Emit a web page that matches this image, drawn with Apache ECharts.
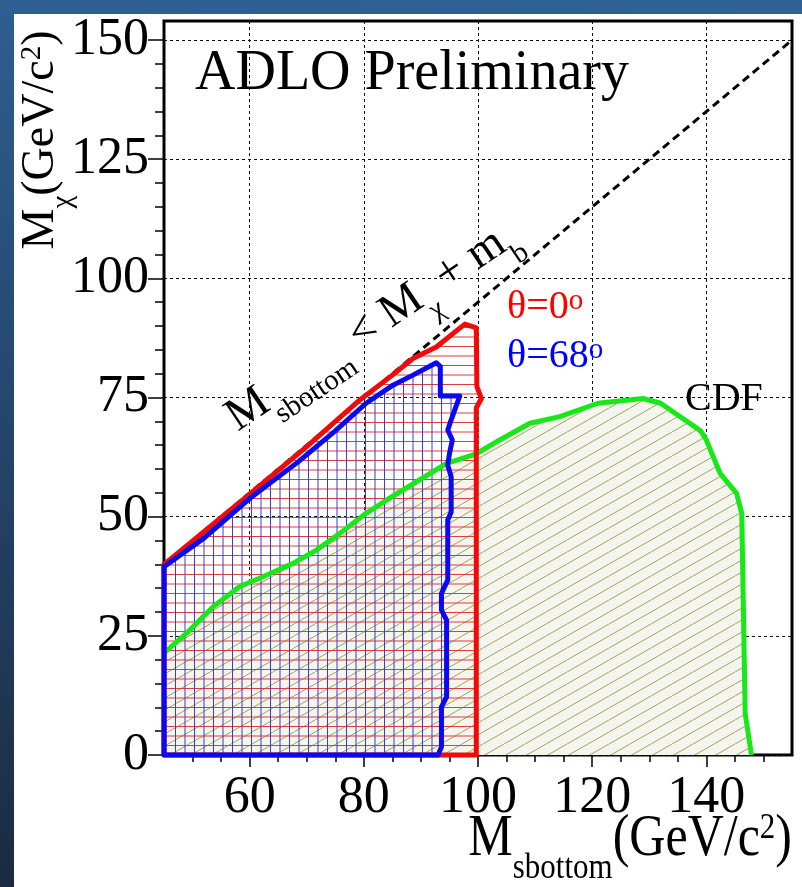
<!DOCTYPE html>
<html><head><meta charset="utf-8">
<script src="https://cdn.jsdelivr.net/npm/echarts@6/dist/echarts.min.js"></script>
<style>html,body{margin:0;padding:0;background:#fff}#c{width:802px;height:887px}</style>
</head><body><div id="c"></div>
<script>
// ---- data ----
const xRange = [45, 155];
const yRange = [0, 154];
const xMajorTicks = [60, 80, 100, 120, 140];
const xMinorTicks = [50, 55, 65, 70, 75, 85, 90, 95, 105, 110, 115, 125, 130, 135, 145, 150];
const yMajorTicks = [0, 25, 50, 75, 100, 125, 150];
const yMinorTicks = [5, 10, 15, 20, 30, 35, 40, 45, 55, 60, 65, 70, 80, 85, 90, 95, 105, 110, 115, 120, 130, 135, 140, 145];
const kinematicLimit = [[45, 40], [155, 150]];
const cdfBoundary = [[45, 21.5], [46, 22.4], [48.9, 25.5], [53.6, 31.1], [58.2, 35.3], [62.3, 37.4], [67.6, 40.2], [71.7, 43.0], [75.8, 46.5], [80.4, 50.7], [84, 53.5], [94.5, 61.2], [99.7, 63.2], [103.8, 66.1], [109.1, 69.6], [114.3, 71.0], [121, 73.8], [128.9, 74.8], [132, 73.8], [139, 68], [140, 66.1], [142.4, 59.1], [145.3, 54.9], [146.2, 50.7], [146.8, 8.7], [147.9, 0]];
const cdfClose = [[45, 0]];
const theta0Boundary = [[45, 0], [45, 40], [60, 54.7], [70, 64.7], [79.3, 74.5], [85, 79.7], [88.6, 83.2], [91, 84.6], [92.7, 85.6], [95.6, 88.4], [97.7, 90.4], [99.7, 89.6], [99.8, 77.3], [100.6, 74.8], [99.7, 72.8], [99.7, 0]];
const theta68Boundary = [[45, 0], [45, 39.5], [52, 45.5], [60, 53.8], [68.5, 61.5], [75, 68], [80.4, 73.8], [85.1, 77.6], [88.6, 79.7], [92.7, 82.3], [93.4, 81.5], [93.4, 75.3], [96.8, 75.3], [95.3, 70.3], [94.7, 68.2], [95.5, 66.1], [95.0, 63.2], [94.7, 60.8], [95.3, 58.4], [95.3, 51.0], [94.7, 49.3], [94.7, 36.7], [93.6, 33.9], [93.6, 30.4], [94.5, 28.3], [94.5, 12.2], [93.6, 10.1], [93.6, 1.7], [93.0, 0]];

// ---- styles ----
const SERIF = '"Liberation Serif", "Times New Roman", serif';
function makeTile(w, h, draw) {
  const c = document.createElement('canvas'); c.width = w; c.height = h;
  const g = c.getContext('2d'); draw(g, w, h); return c;
}
const oliveHatch = makeTile(21, 12, (g, w, h) => {
  g.fillStyle = '#f5f5f0'; g.fillRect(0, 0, w, h);
  g.strokeStyle = '#a4a24c'; g.lineWidth = 1;
  g.beginPath(); g.moveTo(-w / 2, h * 1.5); g.lineTo(w * 1.5, -h / 2); g.stroke();
});
const redHatch = makeTile(4, 19, (g, w, h) => {
  g.fillStyle = '#e03c3c';
  g.fillRect(0, 4, w, 1); g.fillRect(0, 13.5, w, 1);
});
const blueHatch = makeTile(19, 4, (g, w, h) => {
  g.fillStyle = '#3c3cd2';
  g.fillRect(4, 0, 1, h); g.fillRect(13.5, 0, 1, h);
});

function fillSeries(pts, image, z) {
  return {
    type: 'custom', xAxisIndex: 0, yAxisIndex: 0, data: [pts[0]], clip: true, silent: true, z: z,
    renderItem: (params, api) => ({
      type: 'polygon', shape: { points: pts.map(p => api.coord(p)) },
      style: { fill: { image: image, repeat: 'repeat' }, stroke: null }
    })
  };
}
function outlineSeries(pts, color, closed, z) {
  return {
    type: 'custom', xAxisIndex: 0, yAxisIndex: 0, data: [pts[0]], clip: false, silent: true, z: z,
    renderItem: (params, api) => ({
      type: closed ? 'polygon' : 'polyline', shape: { points: pts.map(p => api.coord(p)) },
      style: { fill: null, stroke: color, lineWidth: 5, lineJoin: 'round' }
    })
  };
}
function rich(F, color, supScale) {
  const ss = supScale || 0.62;
  return {
    m: { fontFamily: SERIF, fontSize: F, lineHeight: Math.round(F * 1.3), verticalAlign: 'top', fill: color },
    s: { fontFamily: SERIF, fontSize: Math.round(F * 0.62), lineHeight: Math.round(F * 0.62), verticalAlign: 'bottom', fill: color },
    p: { fontFamily: SERIF, fontSize: Math.round(F * ss), lineHeight: Math.round(F * ss), verticalAlign: 'top', fill: color }
  };
}

const tickLine = { color: '#000', width: 1.5 };
const gridLine = { color: '#111', width: 1, type: [3, 3] };

const option = {
  animation: false,
  backgroundColor: '#ffffff',
  grid: [
    { left: 164, right: 10, top: 21, bottom: 132, show: true, borderColor: '#000', borderWidth: 3, backgroundColor: 'transparent' },
    { left: 164, right: 10, top: 21, bottom: 132, show: false }
  ],
  xAxis: [
    { gridIndex: 0, type: 'value', min: xRange[0], max: xRange[1],
      axisLine: { show: false },
      axisTick: { show: true, customValues: xMajorTicks, length: 12, lineStyle: tickLine },
      axisLabel: { customValues: xMajorTicks, color: '#000', fontFamily: SERIF, fontSize: 52, margin: 17 },
      splitLine: { show: true, lineStyle: gridLine } },
    { gridIndex: 1, type: 'value', min: xRange[0], max: xRange[1],
      axisLine: { show: false },
      axisTick: { show: true, customValues: xMinorTicks, length: 7, lineStyle: tickLine },
      axisLabel: { show: false }, splitLine: { show: false } }
  ],
  yAxis: [
    { gridIndex: 0, type: 'value', min: yRange[0], max: yRange[1], interval: 25,
      axisLine: { show: false },
      axisTick: { show: true, customValues: yMajorTicks, length: 16, lineStyle: tickLine },
      axisLabel: { customValues: yMajorTicks, color: '#000', fontFamily: SERIF, fontSize: 52, margin: 15 },
      splitLine: { show: true, lineStyle: gridLine } },
    { gridIndex: 1, type: 'value', min: yRange[0], max: yRange[1], interval: 25,
      axisLine: { show: false },
      axisTick: { show: true, customValues: yMinorTicks, length: 9, lineStyle: tickLine },
      axisLabel: { show: false }, splitLine: { show: false } }
  ],
  series: [
    fillSeries(cdfBoundary.concat(cdfClose), oliveHatch, 2),
    fillSeries(theta0Boundary, redHatch, 3),
    fillSeries(theta68Boundary, blueHatch, 4),
    { type: 'line', xAxisIndex: 0, yAxisIndex: 0, data: kinematicLimit, showSymbol: false, silent: true, z: 5,
      lineStyle: { color: '#000', width: 3, type: [8, 5] } },
    outlineSeries(cdfBoundary, '#18e818', false, 6),
    outlineSeries(theta0Boundary, '#f20a0a', true, 7),
    outlineSeries(theta68Boundary, '#0a0af0', true, 8)
  ],
  graphic: [
    { type: 'rect', left: 0, top: 0, shape: { width: 14, height: 887 }, z: 100,
      style: { fill: new echarts.graphic.LinearGradient(0, 0, 0, 1, [{ offset: 0, color: '#2e5e92' }, { offset: 1, color: '#1a2b42' }]) } },
    { type: 'rect', left: 0, top: 0, shape: { width: 802, height: 14 }, z: 100,
      style: { fill: new echarts.graphic.LinearGradient(0, 0, 1, 0, [{ offset: 0, color: '#2e5e92' }, { offset: 1, color: '#2f6196' }]) } },
    { type: 'text', x: 195, y: 74, z: 50,
      style: { text: 'ADLO Preliminary', fontFamily: SERIF, fontSize: 56, fill: '#000', verticalAlign: 'middle', align: 'left' } },
    { type: 'text', x: 507, y: 313, z: 50,
      style: { text: '{m|θ=0}{p|o}', rich: rich(40, '#ff0000', 0.72), verticalAlign: 'middle', align: 'left' } },
    { type: 'text', x: 507, y: 362, z: 50,
      style: { text: '{m|θ=68}{p|o}', rich: rich(40, '#0000ff', 0.72), verticalAlign: 'middle', align: 'left' } },
    { type: 'text', x: 685, y: 399, z: 50,
      style: { text: 'CDF', fontFamily: SERIF, fontSize: 40, fill: '#000', verticalAlign: 'middle', align: 'left' } },
    { type: 'text', x: 376, y: 332, rotation: 34 * Math.PI / 180, z: 50,
      style: { text: '{m|M}{s|sbottom}{m| < M}{s|χ}{m| + m}{s|b}', rich: rich(47, '#000'), verticalAlign: 'middle', align: 'center' } },
    { type: 'text', x: 48, y: 140, rotation: Math.PI / 2, z: 50,
      style: { text: '{m|M}{s|χ}{m|(GeV/c}{p|2}{m|)}', rich: rich(46, '#000'), verticalAlign: 'middle', align: 'center' } },
    { type: 'text', x: 792, y: 810, scaleY: 1.18, z: 50,
      style: { text: '{m|M}{s|sbottom}{m|(GeV/c}{p|2}{m|)}', rich: rich(50, '#000'), verticalAlign: 'top', align: 'right' } }
  ]
};
const chart = echarts.init(document.getElementById('c'), null, { renderer: 'canvas', width: 802, height: 887 });
chart.setOption(option);
</script>
</body></html>
